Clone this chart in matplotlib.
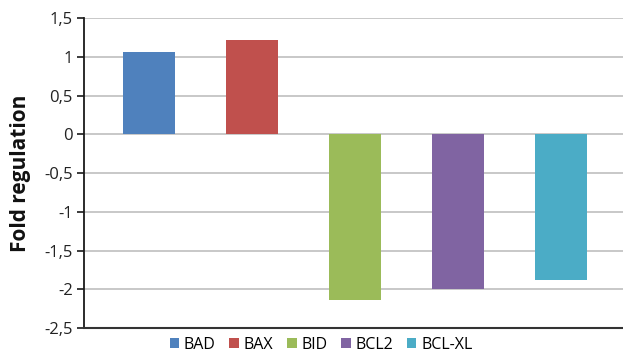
import matplotlib
matplotlib.use("Agg")
import matplotlib.pyplot as plt
from matplotlib.ticker import FuncFormatter, MultipleLocator
from matplotlib.patches import Patch

genes = ["BAD", "BAX", "BID", "BCL2", "BCL-XL"]
fold_regulation = [1.06, 1.22, -2.14, -2.0, -1.88]
colors = ["#4F81BD", "#C0504D", "#9BBB59", "#8064A2", "#4BACC6"]

plt.rcParams["font.family"] = ["Open Sans", "DejaVu Sans"]

fig = plt.figure(figsize=(6.23, 3.54), dpi=100)
ax = fig.add_axes([84 / 623, 1 - 328 / 354, 1 - 84 / 623, (328 - 18.3) / 354])

x = list(range(len(genes)))
ax.bar(x, fold_regulation, width=0.505, color=colors, zorder=3)

ax.set_ylim(-2.5, 1.5)
ax.set_xlim(-0.63, 4.6)
ax.yaxis.set_major_locator(MultipleLocator(0.5))
ax.yaxis.set_major_formatter(
    FuncFormatter(lambda v, _: ("%g" % v).replace(".", ","))
)
ax.set_xticks([])
ax.grid(axis="y", color="#BFBFBF", linewidth=1.2, zorder=0)

for side in ("top", "right"):
    ax.spines[side].set_visible(False)
ax.spines["left"].set_color("#1a1a1a")
ax.spines["left"].set_linewidth(1.3)
ax.spines["bottom"].set_color("#333333")
ax.spines["bottom"].set_linewidth(1.5)
ax.tick_params(axis="y", length=5, width=1.2, color="#1a1a1a",
               labelsize=12, pad=3, labelcolor="#222222")

ax.set_ylabel("Fold regulation", fontsize=15, fontweight="bold",
              color="#111111")
ax.yaxis.set_label_coords(-(84 - 31) / 539, 0.5)

handles = [Patch(facecolor=c, edgecolor="none") for c in colors]
fig.legend(handles, genes, loc="center", bbox_to_anchor=(321 / 623, 1 - 345 / 354),
           ncol=5, frameon=False, fontsize=11.5, handlelength=0.6,
           handleheight=0.6, handletextpad=0.3, columnspacing=0.85,
           borderaxespad=0)

fig.savefig("out.png", dpi=100)
